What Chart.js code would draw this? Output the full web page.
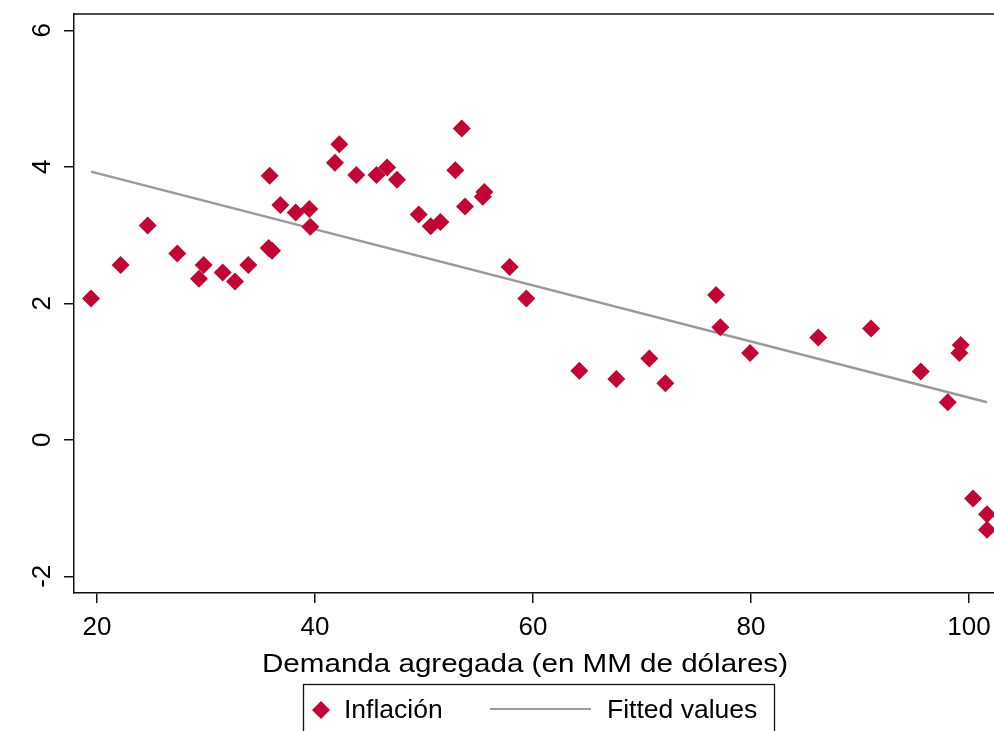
<!DOCTYPE html>
<html>
<head>
<meta charset="utf-8">
<script src="https://cdn.jsdelivr.net/npm/chart.js@4/dist/chart.umd.min.js"></script>
<style>
  html, body { margin: 0; padding: 0; background: #fff; overflow: hidden; }
  #wrap { width: 994px; height: 731px; position: relative; }
</style>
</head>
<body>
<div id="wrap"><canvas id="c" width="994" height="731"></canvas></div>
<script>
// Aggregate demand (billions of dollars) and inflation, one entry per observation
const demanda = [19.45, 22.17, 24.65, 27.37, 29.36, 29.79, 31.53, 32.66, 33.88, 35.75,
                 36.06, 35.84, 36.82, 38.23, 39.48, 39.57, 41.83, 42.23, 43.79, 45.64,
                 46.61, 47.52, 49.51, 50.61, 51.50, 52.87, 53.46, 53.76, 55.39, 55.53,
                 57.86, 59.39, 64.25, 67.64, 70.67, 72.14, 76.79, 77.18, 79.91, 86.17,
                 91.01, 95.57, 98.05, 99.11, 99.24, 100.37, 101.65, 101.65];
const inflacion = [2.07, 2.56, 3.14, 2.73, 2.36, 2.56, 2.45, 2.32, 2.56, 2.81,
                   2.77, 3.87, 3.44, 3.33, 3.38, 3.12, 4.06, 4.33, 3.88, 3.88,
                   3.99, 3.81, 3.30, 3.13, 3.19, 3.95, 4.56, 3.42, 3.56, 3.63,
                   2.53, 2.07, 1.01, 0.89, 1.19, 0.83, 2.12, 1.65, 1.27, 1.50,
                   1.63, 1.00, 0.55, 1.27, 1.39, -0.86, -1.09, -1.32];

// Linear fit endpoints (at the smallest and largest demand values)
const fitX = [19.45, 101.65];
const fitY = [3.93, 0.55];

const xTicks = [20, 40, 60, 80, 100];
const yTicks = [-2, 0, 2, 4, 6];
const seriesNames = ['Inflación', 'Fitted values'];
const xTitle = 'Demanda agregada (en MM de dólares)';

const FONT = '"Liberation Sans", Arial, Helvetica, sans-serif';
const MARK = '#c10534';
const FITC = '#9a9a9a';
const INK = '#111111';
const MARK_R = 9;

// Top frame line across the plot region
const frameTop = {
  id: 'frameTop',
  afterDraw(chart) {
    const { ctx, chartArea: a } = chart;
    ctx.save();
    ctx.strokeStyle = INK;
    ctx.lineWidth = 1.5;
    ctx.beginPath();
    ctx.moveTo(a.left, a.top);
    ctx.lineTo(chart.width, a.top);
    ctx.stroke();
    ctx.restore();
  }
};

// X-axis title, set in a slightly widened face
const axisTitle = {
  id: 'axisTitle',
  afterDraw(chart, args, o) {
    const ctx = chart.ctx;
    ctx.save();
    ctx.font = o.size + 'px ' + FONT;
    ctx.fillStyle = '#000';
    ctx.textAlign = 'center';
    ctx.textBaseline = 'alphabetic';
    const w = ctx.measureText(o.text).width;
    const sx = o.width / w;
    ctx.translate(o.centerX, o.baseY);
    ctx.scale(sx, 1);
    ctx.fillText(o.text, 0, 0);
    ctx.restore();
  }
};

// Boxed legend below the axis title
const boxLegend = {
  id: 'boxLegend',
  afterDraw(chart, args, o) {
    const ctx = chart.ctx;
    const ds = chart.data.datasets;
    ctx.save();
    ctx.strokeStyle = INK;
    ctx.lineWidth = 1.3;
    ctx.strokeRect(o.left, o.top, o.width, o.height);

    const my = o.midY;
    // diamond marker
    const r = MARK_R;
    ctx.fillStyle = ds[0].backgroundColor;
    ctx.beginPath();
    ctx.moveTo(o.markX - r, my);
    ctx.lineTo(o.markX, my - r);
    ctx.lineTo(o.markX + r, my);
    ctx.lineTo(o.markX, my + r);
    ctx.closePath();
    ctx.fill();

    ctx.font = '26.5px ' + FONT;
    ctx.fillStyle = '#000';
    ctx.textBaseline = 'middle';
    ctx.textAlign = 'left';
    ctx.fillText(ds[0].label, o.text1X, my + 1);

    ctx.strokeStyle = ds[1].borderColor;
    ctx.lineWidth = 2.2;
    ctx.beginPath();
    ctx.moveTo(o.lineX0, my - 1);
    ctx.lineTo(o.lineX1, my - 1);
    ctx.stroke();

    ctx.fillText(ds[1].label, o.text2X, my + 1);
    ctx.restore();
  }
};

const points = demanda.map((x, i) => ({ x: x, y: inflacion[i] }));
const fitted = fitX.map((x, i) => ({ x: x, y: fitY[i] }));

new Chart(document.getElementById('c'), {
  type: 'scatter',
  data: {
    datasets: [
      {
        label: seriesNames[0],
        data: points,
        pointStyle: 'rectRot',
        pointRadius: MARK_R,
        pointHoverRadius: MARK_R,
        backgroundColor: MARK,
        borderColor: MARK,
        borderWidth: 0,
        order: 0
      },
      {
        type: 'line',
        label: seriesNames[1],
        data: fitted,
        borderColor: FITC,
        borderWidth: 2.4,
        pointRadius: 0,
        fill: false,
        tension: 0,
        order: 1
      }
    ]
  },
  options: {
    responsive: false,
    animation: false,
    devicePixelRatio: 1,
    events: [],
    layout: { autoPadding: false, padding: { top: 14, left: 0, right: 0, bottom: 52 } },
    plugins: {
      legend: { display: false },
      tooltip: { enabled: false },
      axisTitle: { text: xTitle, size: 26, width: 526, centerX: 525, baseY: 672 },
      boxLegend: {
        left: 303.5, top: 684.5, width: 471, height: 60,
        midY: 710, markX: 321, text1X: 344, lineX0: 490, lineX1: 591, text2X: 607
      }
    },
    scales: {
      x: {
        type: 'linear',
        min: 17.89,
        max: 102.29,
        afterBuildTicks: s => { s.ticks = xTicks.map(v => ({ value: v })); },
        afterFit: s => { s.height = 86; s.paddingLeft = 0; s.paddingRight = 0; },
        ticks: {
          font: { family: FONT, size: 26 },
          color: '#000',
          padding: 9,
          maxRotation: 0,
          autoSkip: false
        },
        grid: { drawOnChartArea: false, tickLength: 10, color: INK, lineWidth: 1.5 },
        border: { display: true, color: INK, width: 1.5 },
        title: { display: false }
      },
      y: {
        type: 'linear',
        min: -2.245,
        max: 6.239,
        afterBuildTicks: s => { s.ticks = yTicks.map(v => ({ value: v })); },
        afterFit: s => { s.width = 74; s.paddingTop = 0; s.paddingBottom = 0; },
        ticks: {
          font: { family: FONT, size: 26 },
          color: '#000',
          minRotation: 90,
          maxRotation: 90,
          crossAlign: 'center',
          padding: 9.5
        },
        grid: { drawOnChartArea: false, tickLength: 10, color: INK, lineWidth: 1.5 },
        border: { display: true, color: INK, width: 1.5 }
      }
    }
  },
  plugins: [frameTop, axisTitle, boxLegend]
});
</script>
</body>
</html>
